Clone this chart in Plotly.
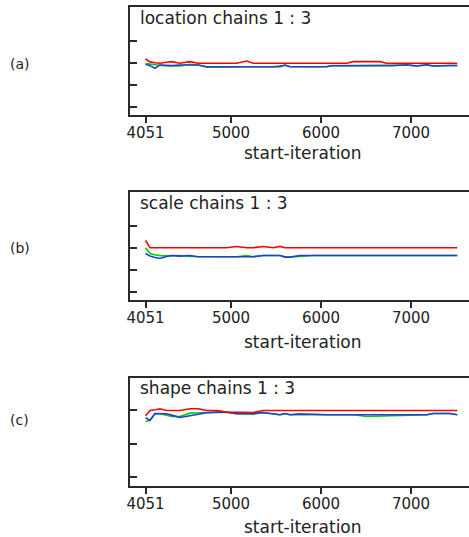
import plotly.graph_objects as go

# ---------------- data ----------------
iters = [4051, 4100, 4155, 4211, 4285, 4341, 4433, 4544, 4637, 4730, 4850, 4952,
         5063, 5174, 5248, 5359, 5470, 5544, 5600, 5655, 5767, 5914, 6063, 6118,
         6285, 6359, 6508, 6655, 6730, 6803, 6952, 7063, 7174, 7248, 7430, 7514]

loc_red = [1.095, 1.03, 1.01, 1.0, 1.02, 1.035, 1.0, 1.035, 1.0, 1.0, 1.0, 1.0,
           1.0, 1.05, 1.0, 1.0, 1.0, 1.0, 1.0, 1.0, 1.0, 1.0, 1.0, 1.0,
           1.0, 1.035, 1.035, 1.035, 1.0, 1.0, 1.0, 1.0, 1.0, 1.0, 1.0, 1.0]
loc_green = [0.99, 0.975, 0.96, 0.955, 0.937, 0.937, 0.937, 0.975, 0.96, 0.91, 0.915, 0.915,
             0.915, 0.915, 0.92, 0.92, 0.92, 0.935, 0.955, 0.925, 0.92, 0.92, 0.925, 0.945,
             0.945, 0.945, 0.945, 0.95, 0.95, 0.945, 0.96, 0.94, 0.96, 0.94, 0.95, 0.95]
loc_blue = [0.975, 0.945, 0.885, 0.96, 0.955, 0.945, 0.96, 0.96, 0.96, 0.92, 0.92, 0.92,
            0.92, 0.92, 0.92, 0.92, 0.92, 0.92, 0.96, 0.92, 0.92, 0.92, 0.92, 0.944,
            0.944, 0.944, 0.944, 0.944, 0.944, 0.944, 0.965, 0.937, 0.965, 0.937, 0.95, 0.95]

scale_red = [1.166, 1.0, 1.0, 1.0, 1.015, 1.015, 1.015, 1.0, 1.0, 1.0, 1.0, 1.0,
             1.03, 1.0, 1.0, 1.03, 1.0, 1.03, 1.0, 1.0, 1.0, 1.0, 1.0, 1.0,
             1.0, 1.0, 1.0, 1.0, 1.0, 1.0, 1.0, 1.0, 1.0, 1.0, 1.0, 1.0]
scale_green = [1.0, 0.87, 0.84, 0.82, 0.815, 0.825, 0.825, 0.80, 0.795, 0.795, 0.795, 0.795,
               0.795, 0.82, 0.795, 0.825, 0.825, 0.825, 0.795, 0.79, 0.80, 0.825, 0.825, 0.825,
               0.825, 0.825, 0.825, 0.825, 0.825, 0.825, 0.825, 0.825, 0.825, 0.825, 0.825, 0.825]
scale_blue = [0.87, 0.81, 0.78, 0.757, 0.80, 0.825, 0.81, 0.825, 0.795, 0.795, 0.795, 0.795,
              0.795, 0.795, 0.795, 0.825, 0.825, 0.825, 0.787, 0.787, 0.825, 0.825, 0.825, 0.825,
              0.825, 0.825, 0.825, 0.825, 0.825, 0.825, 0.825, 0.825, 0.825, 0.825, 0.825, 0.825]

shape_red = [0.92, 1.0, 1.01, 1.025, 1.0, 1.0, 1.0, 1.025, 1.025, 1.0, 1.0, 0.975,
             0.97, 0.975, 0.97, 1.0, 1.0, 1.0, 1.0, 1.0, 1.0, 1.0, 1.0, 1.0,
             1.0, 1.0, 1.0, 1.0, 1.0, 1.0, 1.0, 1.0, 1.0, 1.0, 1.0, 1.0]
shape_green = [0.835, 0.85, 0.95, 0.95, 0.93, 0.91, 0.91, 0.96, 0.965, 0.97, 0.975, 0.975,
               0.95, 0.945, 0.945, 0.965, 0.95, 0.935, 0.955, 0.935, 0.945, 0.935, 0.935, 0.935,
               0.935, 0.935, 0.91, 0.915, 0.925, 0.925, 0.935, 0.935, 0.935, 0.955, 0.955, 0.935]
shape_blue = [0.89, 0.855, 0.955, 0.955, 0.95, 0.93, 0.895, 0.92, 0.94, 0.965, 0.975, 0.975,
              0.95, 0.95, 0.955, 0.97, 0.95, 0.935, 0.955, 0.935, 0.945, 0.935, 0.935, 0.935,
              0.935, 0.935, 0.935, 0.925, 0.925, 0.925, 0.935, 0.935, 0.935, 0.955, 0.955, 0.935]

panel_titles = ["location chains 1 : 3", "scale chains 1 : 3", "shape chains 1 : 3"]
panel_letters = ["(a)", "(b)", "(c)"]
x_tickvals = [4051, 5000, 6000, 7000]
x_ticktext = ["4051", "5000", "6000", "7000"]
x_title = "start-iteration"

# ---------------- figure ----------------
# figure is a few px wider than the window so the panel boxes run off the right edge
W, H = 473, 537
mt, mb, ml, mr = 7, 51, 130, 0
ph = H - mt - mb  # plot-area height in px
pw = W - ml - mr


def py(ypix):
    return (H - mb - ypix) / ph


def px(xpix):
    return (xpix - ml) / pw


panels = [
    dict(red=loc_red, green=loc_green, blue=loc_blue, top=7, bot=115,
         yr=[-0.17, 2.27], ticks=[0, 0.5, 1, 1.5], title_y=17.5, xl_y=153, lab_y=64),
    dict(red=scale_red, green=scale_green, blue=scale_blue, top=192, bot=300,
         yr=[-0.19, 2.27], ticks=[0, 0.5, 1, 1.5], title_y=203, xl_y=342, lab_y=248),
    dict(red=shape_red, green=shape_green, blue=shape_blue, top=378, bot=486,
         yr=[-0.131, 1.486], ticks=[0, 0.5, 1], title_y=388, xl_y=527, lab_y=420),
]

fig = go.Figure()
line_col = "#2a2a2a"
annotations = []
for i, p in enumerate(panels):
    n = "" if i == 0 else str(i + 1)
    xa = "x" + n
    ya = "y" + n
    for key, col in [("green", "#00d000"), ("blue", "#1f3fd6"), ("red", "#ff0000")]:
        fig.add_trace(go.Scatter(x=iters, y=p[key], mode="lines", xaxis=xa, yaxis=ya,
                                 line=dict(color=col, width=1.6), showlegend=False,
                                 hoverinfo="skip"))
    dom = [py(p["bot"]), py(p["top"])]
    fig.layout["xaxis" + n] = dict(
        domain=[0, 1], anchor=ya, range=[3878, 3878 + pw / 0.09], showgrid=False,
        zeroline=False, showline=True, linecolor=line_col, linewidth=2, mirror=True,
        ticks="outside", ticklen=6, tickwidth=1.5, tickcolor=line_col,
        ticklabelstandoff=-3,
        tickvals=x_tickvals, ticktext=x_ticktext,
        tickfont=dict(family="DejaVu Sans", size=15, color="#222"))
    fig.layout["yaxis" + n] = dict(
        domain=dom, anchor=xa, range=p["yr"], showgrid=False, zeroline=False,
        showline=True, linecolor=line_col, linewidth=2,
        ticks="inside", ticklen=7, tickwidth=1.5, tickcolor=line_col,
        tickvals=p["ticks"], showticklabels=False)
    annotations.append(dict(text=panel_titles[i], xref="paper", yref="paper",
                            x=px(138), y=py(p["title_y"]),
                            xanchor="left", yanchor="middle", showarrow=False,
                            font=dict(family="DejaVu Sans", size=17, color="#222")))
    annotations.append(dict(text=x_title, xref="paper", yref="paper",
                            x=px(303), y=py(p["xl_y"]),
                            xanchor="center", yanchor="middle", showarrow=False,
                            font=dict(family="DejaVu Sans", size=17, color="#222")))
    annotations.append(dict(text=panel_letters[i], xref="paper", yref="paper",
                            x=px(8), y=py(p["lab_y"]),
                            xanchor="left", yanchor="middle", showarrow=False,
                            font=dict(family="DejaVu Sans", size=14, color="#222")))

fig.update_layout(width=W, height=H, margin=dict(l=ml, r=mr, t=mt, b=mb),
                  paper_bgcolor="white", plot_bgcolor="white",
                  annotations=annotations)
fig.write_html("out.html", config={"displayModeBar": False},
               post_script="document.body.style.margin='0';"
                           "document.body.style.overflow='hidden';")
